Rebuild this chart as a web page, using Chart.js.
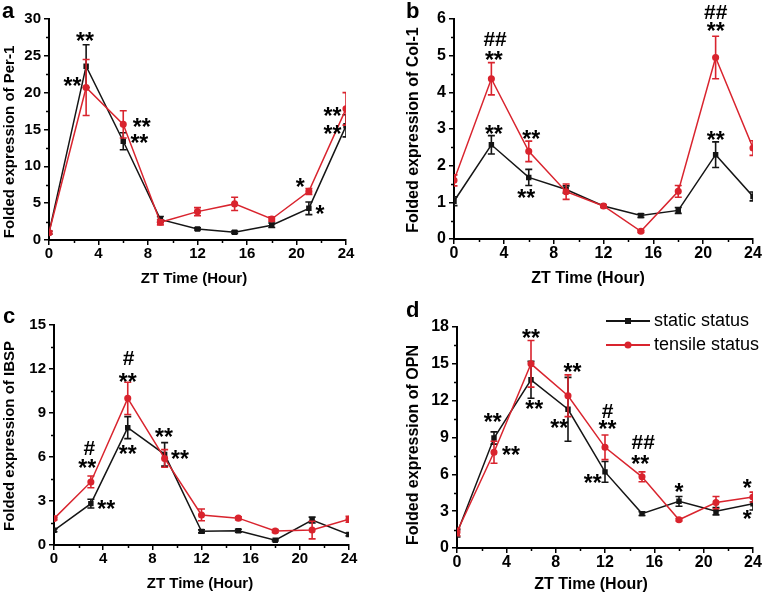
<!DOCTYPE html>
<html>
<head>
<meta charset="utf-8">
<script src="https://cdn.jsdelivr.net/npm/chart.js@4.4.0/dist/chart.umd.min.js"></script>
<style>
  body { margin: 0; background: #fff; }
  #wrap { position: relative; width: 762px; height: 596px; }
  #wrap canvas { position: absolute; }
</style>
</head>
<body>
<div id="wrap">
  <canvas id="panel-a" width="381" height="298" style="left:0;top:0"></canvas>
  <canvas id="panel-b" width="381" height="298" style="left:381px;top:0"></canvas>
  <canvas id="panel-c" width="381" height="298" style="left:0;top:298px"></canvas>
  <canvas id="panel-d" width="381" height="298" style="left:381px;top:298px"></canvas>
</div>
<script>
// sampling times (ZT hours)
const hours = [0, 3, 6, 9, 12, 15, 18, 21, 24];

// a: Per-1
const per1Static = [1.0, 23.6, 13.4, 2.8, 1.5, 1.05, 2.0, 4.3, 15.5];
const per1StaticErr = [0.2, 2.9, 1.15, 0.4, 0.15, 0.15, 0.3, 0.85, 1.5];
const per1Tensile = [1.0, 20.7, 15.7, 2.4, 3.85, 4.9, 2.85, 6.6, 17.8];
const per1TensileErr = [0.2, 3.8, 1.85, 0.35, 0.55, 0.9, 0.3, 0.4, 2.2];
const per1Marks = [[2.9, 27.6, '**'], [1.9, 21.5, '**'], [7.5, 15.9, '**'], [7.3, 13.8, '**'],
  [20.3, 7.8, '*'], [21.9, 4.1, '*'], [22.9, 17.4, '**'], [22.9, 15.0, '**']];

// b: Col-1
const col1Static = [1.03, 2.57, 1.68, 1.35, 0.9, 0.64, 0.78, 2.3, 1.16];
const col1StaticErr = [0.12, 0.25, 0.22, 0.1, 0.03, 0.05, 0.08, 0.35, 0.12];
const col1Tensile = [1.6, 4.37, 2.39, 1.29, 0.9, 0.21, 1.3, 4.95, 2.48];
const col1TensileErr = [0.15, 0.44, 0.28, 0.21, 0.03, 0.03, 0.16, 0.58, 0.2];
const col1Marks = [[3.3, 5.45, '##'], [3.2, 5.0, '**'], [3.2, 3.0, '**'], [6.2, 2.85, '**'],
  [5.8, 1.25, '**'], [21.0, 6.2, '##'], [21.0, 5.8, '**'], [21.0, 2.82, '**']];

// c: IBSP
const ibspStatic = [1.0, 2.82, 8.0, 6.18, 0.93, 0.97, 0.33, 1.7, 0.72];
const ibspStaticErr = [0.1, 0.3, 0.75, 0.8, 0.1, 0.1, 0.05, 0.2, 0.1];
const ibspTensile = [1.8, 4.3, 10.0, 5.9, 2.05, 1.83, 0.95, 1.02, 1.75];
const ibspTensileErr = [0.1, 0.4, 1.1, 0.6, 0.4, 0.1, 0.1, 0.6, 0.2];
const ibspMarks = [[2.87, 6.64, '#'], [2.7, 5.57, '**'], [4.25, 2.77, '**'], [6.06, 12.77, '#'],
  [6.0, 11.4, '**'], [6.0, 6.5, '**'], [8.95, 7.66, '**'], [10.25, 6.14, '**']];

// d: OPN
const opnStatic = [1.2, 8.96, 13.7, 11.3, 6.2, 2.8, 3.8, 3.0, 3.6];
const opnStaticErr = [0.3, 0.5, 1.5, 2.6, 0.85, 0.15, 0.4, 0.3, 0.5];
const opnTensile = [1.3, 7.8, 15.0, 12.4, 8.2, 5.8, 2.3, 3.7, 4.15];
const opnTensileErr = [0.3, 0.9, 1.9, 1.7, 1.0, 0.4, 0.1, 0.5, 0.4];
const opnMarks = [[2.9, 10.6, '**'], [4.37, 7.93, '**'], [6.0, 17.5, '**'], [6.26, 11.68, '**'],
  [9.37, 14.74, '**'], [8.29, 10.18, '**'], [12.2, 11.13, '#'], [12.2, 10.05, '**'],
  [11.0, 5.7, '**'], [15.1, 8.63, '##'], [14.85, 7.2, '**'], [18.0, 4.89, '*'],
  [23.54, 5.24, '*'], [23.54, 2.72, '*']];

const seriesNames = ['static status', 'tensile status'];
const BLACK = '#151515';
const RED = '#d9242e';
const FONT = '"Liberation Sans", Arial, Helvetica, sans-serif';

// vertical error bars, drawn right after their own line
const errorBars = {
  id: 'errorBars',
  afterDatasetDraw(chart, args) {
    const ds = chart.data.datasets[args.index];
    if (!ds.errors) return;
    const { ctx, chartArea: area } = chart;
    const ys = chart.scales.y;
    ctx.save();
    ctx.beginPath();
    ctx.rect(area.left, area.top, area.right - area.left, area.bottom - area.top);
    ctx.clip();
    ctx.strokeStyle = ds.borderColor;
    ctx.lineWidth = 1.6;
    args.meta.data.forEach((pt, i) => {
      const e = ds.errors[i];
      const v = ds.data[i].y;
      const t = ys.getPixelForValue(v + e);
      const b = ys.getPixelForValue(v - e);
      ctx.beginPath();
      ctx.moveTo(pt.x, t); ctx.lineTo(pt.x, b);
      ctx.moveTo(pt.x - 3.5, t); ctx.lineTo(pt.x + 3.5, t);
      ctx.moveTo(pt.x - 3.5, b); ctx.lineTo(pt.x + 3.5, b);
      ctx.stroke();
    });
    ctx.restore();
  }
};

// short ticks halfway between the labelled ones
const minorTicks = {
  id: 'minorTicks',
  afterDraw(chart, args, opts) {
    const { ctx, chartArea: area } = chart;
    const xs = chart.scales.x, ys = chart.scales.y;
    ctx.save();
    ctx.strokeStyle = '#000';
    ctx.lineWidth = 1.5;
    ctx.beginPath();
    for (let v = xs.min + opts.x / 2; v < xs.max; v += opts.x) {
      const px = Math.round(xs.getPixelForValue(v)) + 0.5;
      ctx.moveTo(px, area.bottom); ctx.lineTo(px, area.bottom + 3);
    }
    for (let v = ys.min + opts.y / 2; v < ys.max; v += opts.y) {
      const py = Math.round(ys.getPixelForValue(v)) + 0.5;
      ctx.moveTo(area.left, py); ctx.lineTo(area.left - 3, py);
    }
    ctx.stroke();
    ctx.restore();
  }
};

// significance marks (* and #) placed on the data scales
const sigMarks = {
  id: 'sigMarks',
  afterDraw(chart, args, opts) {
    const { ctx } = chart;
    const xs = chart.scales.x, ys = chart.scales.y;
    ctx.save();
    ctx.fillStyle = '#000';
    ctx.textAlign = 'center';
    ctx.textBaseline = 'alphabetic';
    opts.items.forEach(([x, y, txt]) => {
      ctx.font = txt[0] === '#' ? `bold ${opts.hashSize}px ${FONT}` : `bold ${opts.starSize}px ${FONT}`;
      const m = ctx.measureText(txt);
      const px = xs.getPixelForValue(x);
      const py = ys.getPixelForValue(y) + (m.actualBoundingBoxAscent - m.actualBoundingBoxDescent) / 2;
      ctx.fillText(txt, px, py);
    });
    ctx.restore();
  }
};

// panel letter and axis titles
const panelText = {
  id: 'panelText',
  afterDraw(chart, args, o) {
    const { ctx } = chart;
    ctx.save();
    ctx.fillStyle = '#000';
    ctx.font = `bold ${o.letterSize}px ${FONT}`;
    ctx.textAlign = 'left';
    ctx.textBaseline = 'alphabetic';
    ctx.fillText(o.letter, o.letterX, o.letterY);
    ctx.font = `bold ${o.titleSize}px ${FONT}`;
    ctx.textAlign = 'center';
    ctx.textBaseline = 'middle';
    ctx.fillText(o.xTitle, o.xTitleX, o.xTitleY);
    ctx.translate(o.yTitleX, o.yTitleY);
    ctx.rotate(-Math.PI / 2);
    ctx.fillText(o.yTitle, 0, 0);
    ctx.restore();
  }
};

// line + marker legend
const lineLegend = {
  id: 'lineLegend',
  afterDraw(chart, args, o) {
    if (!o.show) return;
    const { ctx } = chart;
    ctx.save();
    chart.data.datasets.forEach((ds, i) => {
      const y = o.y + i * o.rowGap;
      ctx.strokeStyle = ds.borderColor;
      ctx.lineWidth = 2;
      ctx.beginPath();
      ctx.moveTo(o.x, y); ctx.lineTo(o.x + o.lineLen, y);
      ctx.stroke();
      ctx.fillStyle = ds.borderColor;
      const cx = o.x + o.lineLen / 2;
      if (ds.pointStyle === 'rect') {
        ctx.fillRect(cx - 3, y - 3, 6, 6);
      } else {
        ctx.beginPath(); ctx.arc(cx, y, 3.5, 0, Math.PI * 2); ctx.fill();
      }
      ctx.fillStyle = '#000';
      ctx.font = `${o.fontSize}px ${FONT}`;
      ctx.textAlign = 'left';
      ctx.textBaseline = 'middle';
      ctx.fillText(ds.label, o.x + o.lineLen + 4, y);
    });
    ctx.restore();
  }
};

function points(vals) {
  return hours.map((h, i) => ({ x: h, y: vals[i] }));
}

function makePanel(id, p) {
  const tickFont = { family: FONT, weight: 'bold', size: p.tickSize };
  new Chart(document.getElementById(id), {
    type: 'line',
    data: {
      datasets: [
        {
          label: seriesNames[0], data: points(p.stat), errors: p.statErr,
          borderColor: BLACK, backgroundColor: BLACK, borderWidth: 1.5,
          pointStyle: 'rect', pointRadius: 2.8, order: 1
        },
        {
          label: seriesNames[1], data: points(p.tens), errors: p.tensErr,
          borderColor: RED, backgroundColor: RED, borderWidth: 1.5,
          pointStyle: 'circle', pointRadius: 2.8, order: 0
        }
      ]
    },
    options: {
      responsive: false,
      animation: false,
      devicePixelRatio: 1,
      layout: { padding: { left: 0, top: p.area[1], right: 381 - p.area[2], bottom: 0 } },
      scales: {
        x: {
          type: 'linear', min: 0, max: 24,
          afterFit: s => { s.height = 298 - p.area[3]; },
          ticks: { stepSize: 4, font: tickFont, color: '#000', padding: 0, maxRotation: 0 },
          grid: { drawOnChartArea: false, drawTicks: true, tickLength: 5, color: '#000', lineWidth: 1.5 },
          border: { color: '#000', width: 2 }
        },
        y: {
          min: 0, max: p.yMax,
          afterFit: s => { s.width = p.area[0]; },
          ticks: { stepSize: p.yStep, font: tickFont, color: '#000', padding: 3 },
          grid: { drawOnChartArea: false, drawTicks: true, tickLength: 5, color: '#000', lineWidth: 1.5 },
          border: { color: '#000', width: 2 }
        }
      },
      plugins: {
        legend: { display: false },
        tooltip: { enabled: false },
        minorTicks: { x: 4, y: p.yStep },
        sigMarks: { items: p.marks, starSize: 23, hashSize: 21 },
        panelText: p.text,
        lineLegend: p.legend || { show: false }
      }
    },
    plugins: [errorBars, minorTicks, sigMarks, panelText, lineLegend]
  });
}

makePanel('panel-a', {
  stat: per1Static, statErr: per1StaticErr, tens: per1Tensile, tensErr: per1TensileErr,
  marks: per1Marks, yMax: 30, yStep: 5, area: [49, 19, 346, 240], tickSize: 15,
  text: { letter: 'a', letterX: 2, letterY: 18, letterSize: 22, titleSize: 15,
    xTitle: 'ZT Time (Hour)', xTitleX: 194, xTitleY: 279,
    yTitle: 'Folded expression of Per-1', yTitleX: 10, yTitleY: 142 }
});

makePanel('panel-b', {
  stat: col1Static, statErr: col1StaticErr, tens: col1Tensile, tensErr: col1TensileErr,
  marks: col1Marks, yMax: 6, yStep: 1, area: [73, 19, 372, 239], tickSize: 16,
  text: { letter: 'b', letterX: 25, letterY: 18, letterSize: 22, titleSize: 16,
    xTitle: 'ZT Time (Hour)', xTitleX: 207, xTitleY: 279,
    yTitle: 'Folded expression of Col-1', yTitleX: 33, yTitleY: 130 }
});

makePanel('panel-c', {
  stat: ibspStatic, statErr: ibspStaticErr, tens: ibspTensile, tensErr: ibspTensileErr,
  marks: ibspMarks, yMax: 15, yStep: 3, area: [54, 27, 349, 247], tickSize: 15,
  text: { letter: 'c', letterX: 3, letterY: 25, letterSize: 22, titleSize: 15,
    xTitle: 'ZT Time (Hour)', xTitleX: 200, xTitleY: 286,
    yTitle: 'Folded expression of IBSP', yTitleX: 10, yTitleY: 138 }
});

makePanel('panel-d', {
  stat: opnStatic, statErr: opnStaticErr, tens: opnTensile, tensErr: opnTensileErr,
  marks: opnMarks, yMax: 18, yStep: 3, area: [76, 29, 372, 250], tickSize: 16,
  text: { letter: 'd', letterX: 25, letterY: 19, letterSize: 22, titleSize: 16,
    xTitle: 'ZT Time (Hour)', xTitleX: 210, xTitleY: 287,
    yTitle: 'Folded expression of OPN', yTitleX: 33, yTitleY: 147 },
  legend: { show: true, x: 225, y: 23, rowGap: 24, lineLen: 44, fontSize: 18 }
});
</script>
</body>
</html>
